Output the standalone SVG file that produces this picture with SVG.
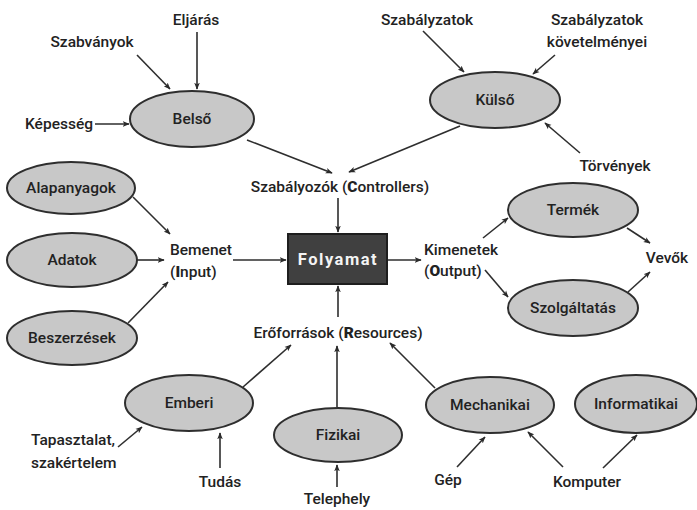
<svg xmlns="http://www.w3.org/2000/svg" width="697" height="510" viewBox="0 0 697 510">
<defs>
<marker id="ah" viewBox="0 0 10 10" refX="9" refY="5" markerWidth="7" markerHeight="7" orient="auto" markerUnits="userSpaceOnUse">
<path d="M0,1 L10,5 L0,9 L2.5,5 Z" fill="#2a2a2a"/>
</marker>
<style>
.n ellipse{fill:#c8c8c8;stroke:#2e2e2e;stroke-width:2}
text{font-family:Roboto,"Liberation Sans",sans-serif;font-size:15.5px;font-weight:500;fill:#222}
.c{text-anchor:middle}
.b{font-weight:900}
#edges line{stroke:#2e2e2e;stroke-width:1.6;marker-end:url(#ah)}
</style>
</defs>
<rect width="697" height="510" fill="#ffffff"/>
<g id="edges">
<line x1="197" y1="32" x2="197" y2="89"/>
<line x1="137" y1="55" x2="170" y2="89"/>
<line x1="95" y1="124" x2="129" y2="124"/>
<line x1="247" y1="140" x2="332" y2="173"/>
<line x1="460" y1="126" x2="349" y2="172"/>
<line x1="423" y1="31" x2="464" y2="72"/>
<line x1="555" y1="55" x2="533" y2="74"/>
<line x1="580" y1="153" x2="545" y2="123"/>
<line x1="338" y1="198" x2="338" y2="232"/>
<line x1="133" y1="197" x2="170" y2="234"/>
<line x1="137" y1="260" x2="164" y2="260"/>
<line x1="128" y1="323" x2="168" y2="282"/>
<line x1="233" y1="260" x2="286" y2="260"/>
<line x1="388" y1="260" x2="421" y2="260"/>
<line x1="338" y1="317" x2="338" y2="286"/>
<line x1="483" y1="238" x2="508" y2="218"/>
<line x1="485" y1="270" x2="508" y2="297"/>
<line x1="627" y1="228" x2="650" y2="243"/>
<line x1="628" y1="292" x2="650" y2="272"/>
<line x1="243" y1="387" x2="291" y2="345"/>
<line x1="337" y1="407" x2="337" y2="346"/>
<line x1="435" y1="388" x2="390" y2="343"/>
<line x1="118" y1="447" x2="142" y2="427"/>
<line x1="220" y1="468" x2="220" y2="433"/>
<line x1="337" y1="487" x2="337" y2="465"/>
<line x1="457" y1="467" x2="485" y2="437"/>
<line x1="563" y1="467" x2="528" y2="432"/>
<line x1="603" y1="468" x2="637" y2="435"/>
</g>
<g id="belso" class="n"><ellipse cx="192" cy="119" rx="62" ry="28"/><text class="c" x="192" y="124">Belső</text></g>
<g id="kulso" class="n"><ellipse cx="495" cy="100" rx="65" ry="28"/><text class="c" x="495" y="105">Külső</text></g>
<g id="alapanyagok" class="n"><ellipse cx="71" cy="188" rx="64" ry="26"/><text class="c" x="71" y="193">Alapanyagok</text></g>
<g id="adatok" class="n"><ellipse cx="72" cy="260" rx="65" ry="27"/><text class="c" x="72" y="265">Adatok</text></g>
<g id="beszerzesek" class="n"><ellipse cx="72" cy="338" rx="65" ry="27"/><text class="c" x="72" y="343">Beszerzések</text></g>
<g id="termek" class="n"><ellipse cx="573" cy="210" rx="65" ry="27"/><text class="c" x="573" y="215">Termék</text></g>
<g id="szolgaltatas" class="n"><ellipse cx="573" cy="308" rx="65" ry="28"/><text class="c" x="573" y="313">Szolgáltatás</text></g>
<g id="emberi" class="n"><ellipse cx="189" cy="403" rx="64" ry="28"/><text class="c" x="189" y="408">Emberi</text></g>
<g id="fizikai" class="n"><ellipse cx="338" cy="435" rx="64" ry="27"/><text class="c" x="338" y="440">Fizikai</text></g>
<g id="mechanikai" class="n"><ellipse cx="490" cy="405" rx="64" ry="28"/><text class="c" x="490" y="410">Mechanikai</text></g>
<g id="informatikai" class="n"><ellipse cx="636" cy="404" rx="61" ry="29"/><text class="c" x="636" y="409">Informatikai</text></g>
<g id="folyamat"><rect x="288" y="234" width="99" height="50" fill="#404040" stroke="#1e1e1e" stroke-width="2"/><text class="c" x="338" y="265" style="fill:#f4f4f4;font-weight:700;font-size:16.5px;letter-spacing:1.5px">Folyamat</text></g>
<g id="eljaras"><text class="c" x="196" y="25">Eljárás</text></g>
<g id="szabvanyok"><text class="c" x="92" y="47">Szabványok</text></g>
<g id="kepesseg"><text class="c" x="59" y="129">Képesség</text></g>
<g id="szabalyzatok"><text class="c" x="427" y="25">Szabályzatok</text></g>
<g id="szabalyzatok-kov"><text class="c" x="597" y="25">Szabályzatok</text><text class="c" x="597" y="47">követelményei</text></g>
<g id="torvenyek"><text class="c" x="615" y="171">Törvények</text></g>
<g id="szabalyozok"><text class="c" x="340" y="192">Szabályozók (<tspan class="b">C</tspan>ontrollers)</text></g>
<g id="bemenet"><text x="170" y="255">Bemenet</text><text x="170" y="277">(<tspan class="b">I</tspan>nput)</text></g>
<g id="kimenetek"><text x="424" y="255">Kimenetek</text><text x="424" y="276">(<tspan class="b">O</tspan>utput)</text></g>
<g id="vevok"><text class="c" x="667" y="263">Vevők</text></g>
<g id="eroforrasok"><text class="c" x="338" y="338">Erőforrások (<tspan class="b">R</tspan>esources)</text></g>
<g id="tapasztalat"><text x="31" y="445">Tapasztalat,</text><text x="31" y="468">szakértelem</text></g>
<g id="tudas"><text class="c" x="220" y="487">Tudás</text></g>
<g id="telephely"><text class="c" x="337" y="504">Telephely</text></g>
<g id="gep"><text class="c" x="448" y="485">Gép</text></g>
<g id="komputer"><text class="c" x="587" y="487">Komputer</text></g>
</svg>
